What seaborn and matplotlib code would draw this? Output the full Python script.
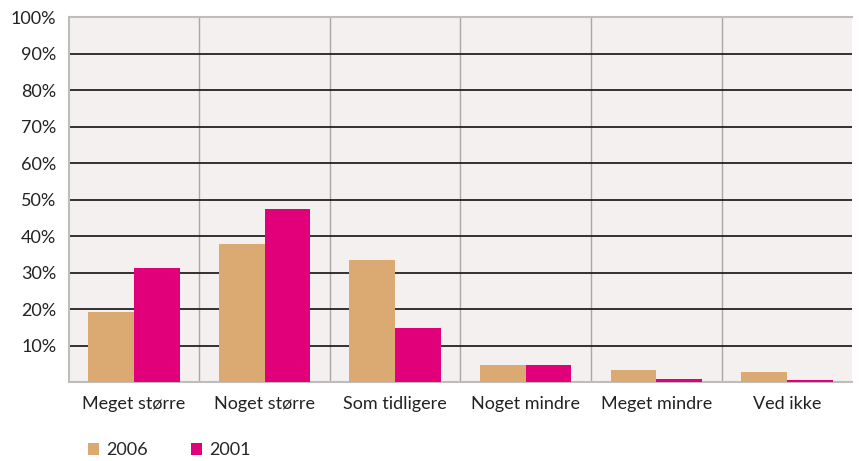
import pandas as pd
import matplotlib.pyplot as plt
import seaborn as sns

# Data (percent)
categories = ["Meget større", "Noget større", "Som tidligere", "Noget mindre", "Meget mindre", "Ved ikke"]
years = ["2006", "2001"]
values_2006 = [19.1, 37.8, 33.5, 4.6, 3.2, 2.9]
values_2001 = [31.2, 47.4, 14.8, 4.6, 0.8, 0.6]
y_ticks = [10, 20, 30, 40, 50, 60, 70, 80, 90, 100]

df = pd.DataFrame({
    "Kategori": categories * 2,
    "År": ["2006"] * len(categories) + ["2001"] * len(categories),
    "Andel": values_2006 + values_2001,
})

sns.set_style("white")
plt.rcParams["font.family"] = ["Lato", "DejaVu Sans"]

fig = plt.figure(figsize=(8.59, 4.61), dpi=100)
ax = fig.add_axes([0.080, 0.171, 0.912, 0.792])
ax.set_facecolor("#f4f0ef")

palette = {"2006": "#dba972", "2001": "#e2007a"}
sns.barplot(data=df, x="Kategori", y="Andel", hue="År", hue_order=years,
            palette=palette, width=0.7, saturation=1, linewidth=0,
            ax=ax, zorder=3)

# horizontal grid lines
for t in y_ticks[:-1]:
    ax.axhline(t, color="#222222", lw=1.3, zorder=2)
# vertical category separators
for i in range(1, len(categories)):
    ax.axvline(i - 0.5, color="#a8a8a8", lw=1, zorder=1)

ax.set_xlim(-0.5, len(categories) - 0.5)
ax.set_ylim(0, 100)
ax.set_yticks(y_ticks)
ax.set_yticklabels([f"{t}%" for t in y_ticks])
ax.set_xlabel("")
ax.set_ylabel("")
ax.tick_params(axis="both", length=0, labelsize=13, colors="#222222")
ax.tick_params(axis="y", pad=9)
ax.tick_params(axis="x", pad=10)

for side in ["left", "bottom", "top", "right"]:
    ax.spines[side].set_color("#bdbdbd")
    ax.spines[side].set_linewidth(1.5)
ax.spines["right"].set_visible(False)

ax.legend(loc="upper left", bbox_to_anchor=(0.015, -0.145), ncol=2, frameon=False,
          handlelength=0.6, handleheight=0.6, handletextpad=0.4, columnspacing=2.4,
          fontsize=13, borderaxespad=0)

plt.savefig("out.png", dpi=100)
